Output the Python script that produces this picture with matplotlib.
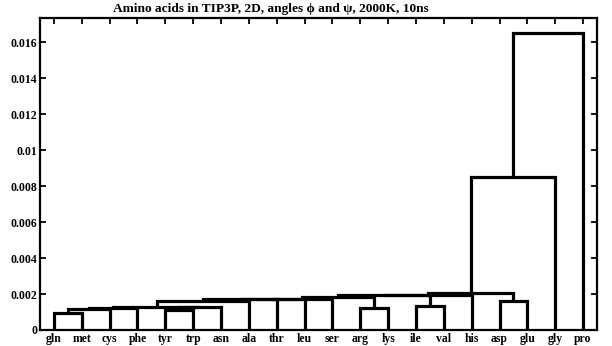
import matplotlib
matplotlib.use("Agg")
import matplotlib.pyplot as plt

# leaf labels in dendrogram order
leaves = ["gln", "met", "cys", "phe", "tyr", "trp", "asn", "ala", "thr", "leu",
          "ser", "arg", "lys", "ile", "val", "his", "asp", "glu", "gly", "pro"]

# merges: (left node, right node, height); nodes 0..19 are leaves, 20+ are merges
left_node = [0, 20, 21, 4, 23, 22, 25, 26, 27, 28, 11, 29, 13, 31, 33, 16, 34, 36, 37]
right_node = [1, 2, 3, 5, 6, 24, 7, 8, 9, 10, 12, 30, 14, 32, 15, 17, 35, 18, 19]
heights = [0.00094, 0.00117, 0.00120, 0.00112, 0.00127, 0.00130, 0.00160,
           0.00171, 0.00173, 0.00175, 0.00120, 0.00182, 0.00132, 0.00192,
           0.00197, 0.00163, 0.00203, 0.00849, 0.01652]

yticks = [0, 0.002, 0.004, 0.006, 0.008, 0.01, 0.012, 0.014, 0.016]
ytick_labels = ["0", "0.002", "0.004", "0.006", "0.008", "0.01", "0.012", "0.014", "0.016"]

plt.rcParams['font.family'] = ['Liberation Serif', 'DejaVu Serif']

fig = plt.figure(figsize=(6.12, 3.46), dpi=100)
ax = fig.add_axes([40 / 612, 16 / 346, 557 / 612, 312 / 346])

n = len(leaves)
xpos = {i: i + 1 for i in range(n)}
ypos = {i: 0.0 for i in range(n)}
for k, (a, b, h) in enumerate(zip(left_node, right_node, heights)):
    node = n + k
    ax.plot([xpos[a], xpos[a], xpos[b], xpos[b]], [ypos[a], h, h, ypos[b]],
            color="black", lw=2.3, solid_joinstyle="miter", solid_capstyle="butt")
    xpos[node] = (xpos[a] + xpos[b]) / 2
    ypos[node] = h

ax.set_xlim(0.5, n + 0.5)
ax.set_ylim(0, 0.01735)
ax.set_xticks(range(1, n + 1))
ax.set_xticklabels(leaves, fontsize=8.5, fontweight="bold")
ax.set_yticks(yticks)
ax.set_yticklabels(ytick_labels, fontsize=8.5, fontweight="bold")
ax.tick_params(direction="in", length=4, width=1.3, top=True, right=True, pad=2)
for s in ax.spines.values():
    s.set_linewidth(1.6)

fig.text(271 / 612, 1 - 9 / 346, "Amino acids in TIP3P, 2D, angles \u03d5 and \u03c8, 2000K, 10ns",
         ha="center", va="center", fontsize=9.6, fontweight="bold")

fig.savefig("out.png", dpi=100)
